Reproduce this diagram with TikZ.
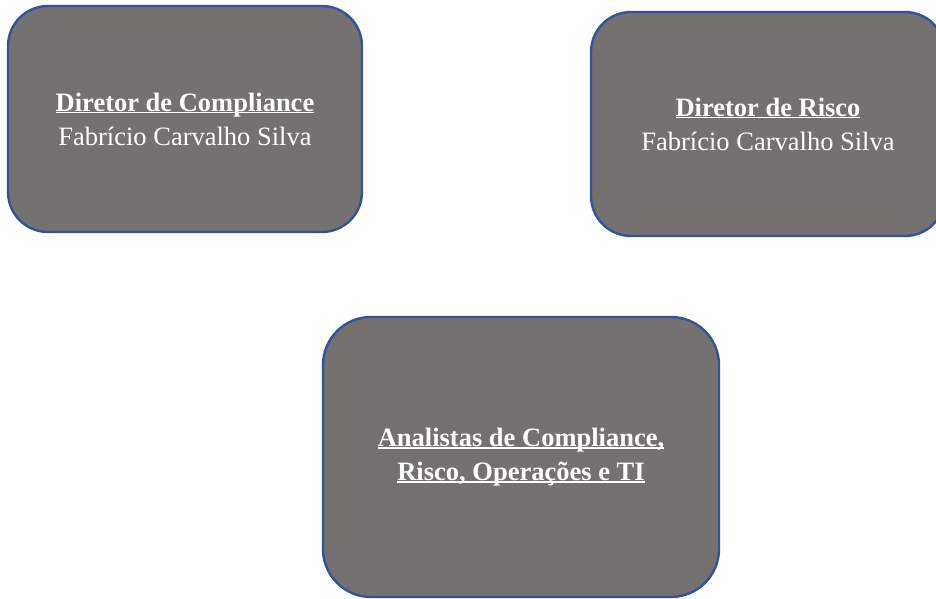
\documentclass[tikz,border=0pt]{standalone}
\usepackage{fontspec}
\setmainfont{Liberation Serif}

\definecolor{cinza}{HTML}{767171}
\definecolor{azulborda}{HTML}{2F5597}

\newsavebox{\caixatexto}
\newcommand{\sublinha}[1]{\sbox{\caixatexto}{#1}\rlap{\rule[-2.2pt]{\wd\caixatexto}{1.3pt}}\usebox{\caixatexto}}

\tikzset{
  caixa/.style={draw=azulborda, line width=2.4pt, fill=cinza, rounded corners=40pt,
    text=white, align=center, inner sep=0pt,
    font=\fontsize{26.5}{34}\selectfont},
}

\begin{document}
\begin{tikzpicture}[x=1pt,y=-1pt]

\useasboundingbox (0,0) rectangle (936,599) ;
\clip (0,0) rectangle (936,599) ;

\node [caixa, minimum width=354pt, minimum height=226pt] (compliance) at (185,119)
  {\sublinha{\textbf{Diretor de Compliance}}\\Fabrício Carvalho Silva} ;
\node [caixa, minimum width=354pt, minimum height=224pt] (risco) at (768,124)
  {\sublinha{\textbf{Diretor de Risco}}\\Fabrício Carvalho Silva} ;
\node [caixa, rounded corners=48pt, minimum width=396pt, minimum height=280pt] (analistas) at (521,457)
  {\sublinha{\textbf{Analistas de Compliance,}}\\\sublinha{\textbf{Risco, Operações e TI}}} ;

\end{tikzpicture}
\end{document}
